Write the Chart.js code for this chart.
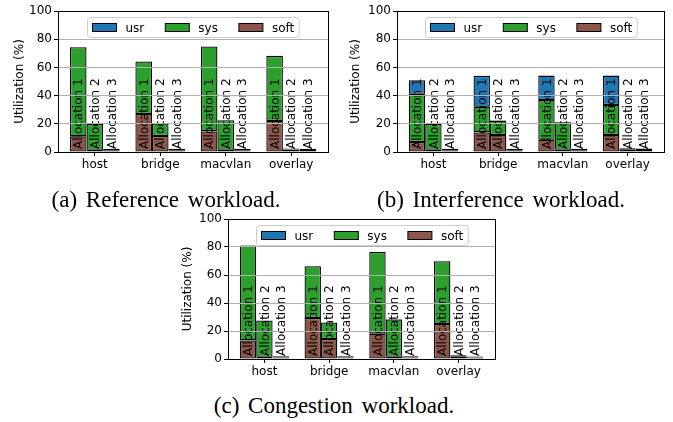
<!DOCTYPE html>
<html>
<head>
<meta charset="utf-8">
<script src="https://cdn.jsdelivr.net/npm/chart.js@4.4.0/dist/chart.umd.min.js"></script>
<style>
  body { margin: 0; background: #fff; }
  #wrap { position: relative; width: 673px; height: 422px; overflow: hidden; }
  canvas { position: absolute; }
  .cap {
    position: absolute;
    font-family: 'Liberation Serif', 'Times New Roman', serif;
    font-size: 23px;
    line-height: 23px;
    word-spacing: 3px;
    white-space: nowrap;
    transform: translateX(-50%);
    color: #000;
  }
</style>
</head>
<body>
<div id="wrap">
  <canvas id="chartA" width="336" height="182" style="left:0;top:0"></canvas>
  <canvas id="chartB" width="333" height="182" style="left:340px;top:0"></canvas>
  <canvas id="chartC" width="336" height="182" style="left:170px;top:205px"></canvas>
  <div class="cap" style="left:166px;top:188px">(a) Reference workload.</div>
  <div class="cap" style="left:501px;top:188px">(b) Interference workload.</div>
  <div class="cap" style="left:334px;top:394px">(c) Congestion workload.</div>
</div>
<script>
const categories = ['host', 'bridge', 'macvlan', 'overlay'];
const allocations = ['Allocation 1', 'Allocation 2', 'Allocation 3'];
const yTicks = [0, 20, 40, 60, 80, 100];
const legendOrder = ['usr', 'sys', 'soft'];

// one row per allocation, one value per category
const refUsr = [[0, 0, 0, 0], [0, 0, 0, 0], [0, 0, 0, 0]];
const refSys = [[63.2, 37.3, 60.2, 46.3], [18.3, 9.0, 20.9, 0.7], [1.0, 1.0, 1.0, 0.9]];
const refSoft = [[11.1, 26.9, 14.6, 21.9], [1.6, 11.3, 1.6, 1.8], [1.3, 1.3, 1.3, 1.4]];

const intUsr = [[9.6, 21.9, 17.4, 20.9], [0, 0.3, 0.3, 0], [0, 0, 0, 0]];
const intSys = [[34.2, 18.2, 28.1, 21.3], [18.3, 10.2, 19.5, 0.6], [1.0, 1.0, 1.0, 0.9]];
const intSoft = [[7.1, 13.9, 8.7, 12.0], [1.6, 12.0, 1.6, 2.0], [1.3, 1.3, 1.3, 1.5]];

const conUsr = [[0.3, 0.3, 0, 0], [0, 0, 0.5, 0], [0, 0, 0, 0]];
const conSys = [[67.7, 36.9, 58.3, 44.8], [25.9, 11.8, 26.6, 0.6], [0.9, 0.9, 0.9, 0.7]];
const conSoft = [[13.3, 29.3, 18.1, 25.0], [1.6, 14.3, 1.6, 2.0], [1.1, 1.1, 1.1, 1.1]];

const colors = { usr: '#1f77b4', sys: '#2ca02c', soft: '#8c564b' };
const FONT = '"DejaVu Sans", sans-serif';
const FS = 12;

// "Allocation N" written upward inside each bar
const barText = {
    id: 'barText',
    afterDatasetsDraw(chart) {
        const ctx = chart.ctx;
        const y0 = chart.scales.y.getPixelForValue(0);
        ctx.save();
        ctx.font = FS + 'px ' + FONT;
        ctx.fillStyle = '#000';
        ctx.textAlign = 'left';
        ctx.textBaseline = 'middle';
        allocations.forEach(function(name, i) {
            const meta = chart.getDatasetMeta(i * 3);
            meta.data.forEach(function(bar) {
                ctx.save();
                ctx.translate(bar.x, y0 - 3);
                ctx.rotate(-Math.PI / 2);
                ctx.fillText(name, 0, 1);
                ctx.restore();
            });
        });
        ctx.restore();
    }
};

// axes frame + boxed legend like matplotlib
const frameLegend = {
    id: 'frameLegend',
    afterDraw(chart) {
        const ctx = chart.ctx;
        const a = chart.chartArea;
        ctx.save();
        ctx.strokeStyle = '#000';
        ctx.lineWidth = 1;
        ctx.strokeRect(Math.round(a.left) + 0.5, Math.round(a.top) + 0.5,
            Math.round(a.right - a.left), Math.round(a.bottom - a.top));

        ctx.font = FS + 'px ' + FONT;
        const handle = 24, textPad = 9, gap = 21, inner = 5;
        const widths = legendOrder.map(n => ctx.measureText(n).width);
        let total = inner * 2 + gap * (legendOrder.length - 1);
        widths.forEach(w => total += handle + textPad + w);
        const h = 20;
        const bx = Math.round((a.left + a.right) / 2 - total / 2) + 0.5;
        const by = Math.round(a.top + 6) + 0.5;
        ctx.fillStyle = 'rgba(255,255,255,0.8)';
        ctx.strokeStyle = '#cccccc';
        ctx.beginPath();
        ctx.roundRect(bx, by, total, h, 3);
        ctx.fill();
        ctx.stroke();

        let x = bx + inner;
        const cy = by + h / 2;
        legendOrder.forEach(function(n, k) {
            ctx.fillStyle = colors[n];
            ctx.fillRect(x, cy - 4, handle, 8);
            ctx.strokeStyle = '#000';
            ctx.strokeRect(x, cy - 4, handle, 8);
            ctx.fillStyle = '#000';
            ctx.textBaseline = 'middle';
            ctx.fillText(n, x + handle + textPad, cy + 1);
            x += handle + textPad + widths[k] + gap;
        });
        ctx.restore();
    }
};

function makeChart(id, usr, sys, soft, box) {
    const datasets = [];
    allocations.forEach(function(name, i) {
        const parts = [['soft', soft[i]], ['sys', sys[i]], ['usr', usr[i]]];
        parts.forEach(function(p) {
            datasets.push({
                label: p[0],
                data: p[1].map((v, j) => ({ x: j, y: v })),
                backgroundColor: colors[p[0]],
                borderColor: '#000',
                borderWidth: 1.3,
                borderSkipped: false,
                stack: 'alloc' + i,
                categoryPercentage: 0.76,
                barPercentage: 1.0
            });
        });
    });

    return new Chart(document.getElementById(id), {
        type: 'bar',
        data: { datasets: datasets },
        plugins: [barText, frameLegend],
        options: {
            responsive: false,
            animation: false,
            layout: { padding: { top: box.top, right: box.right, left: 0, bottom: 0 } },
            plugins: { legend: { display: false }, tooltip: { enabled: false } },
            scales: {
                x: {
                    type: 'linear',
                    min: -0.5625,
                    max: 3.5625,
                    offset: false,
                    afterBuildTicks: function(scale) {
                        scale.ticks = categories.map((c, j) => ({ value: j }));
                    },
                    afterFit: function(scale) { scale.height = box.xh; },
                    grid: { offset: false, drawOnChartArea: false, tickLength: 4, tickColor: '#000' },
                    border: { display: false },
                    ticks: {
                        padding: 2,
                        color: '#000',
                        font: { family: FONT, size: FS },
                        callback: v => categories[v]
                    }
                },
                y: {
                    stacked: true,
                    min: 0,
                    max: 100,
                    afterBuildTicks: function(scale) {
                        scale.ticks = yTicks.map(v => ({ value: v }));
                    },
                    afterFit: function(scale) { scale.width = box.yw; },
                    grid: { color: '#b0b0b0', z: 1, tickLength: 4, tickColor: '#000' },
                    border: { display: false },
                    ticks: {
                        padding: 2,
                        color: '#000',
                        font: { family: FONT, size: FS }
                    },
                    title: {
                        display: true,
                        text: 'Utilization (%)',
                        color: '#000',
                        font: { family: FONT, size: FS },
                        padding: { top: box.tp, bottom: 0 }
                    }
                }
            }
        }
    });
}

makeChart('chartA', refUsr, refSys, refSoft, { top: 11, right: 8, xh: 30, yw: 58, tp: 13 });
makeChart('chartB', intUsr, intSys, intSoft, { top: 11, right: 9, xh: 30, yw: 57, tp: 9 });
makeChart('chartC', conUsr, conSys, conSoft, { top: 14, right: 11, xh: 28, yw: 58, tp: 11 });
</script>
</body>
</html>
